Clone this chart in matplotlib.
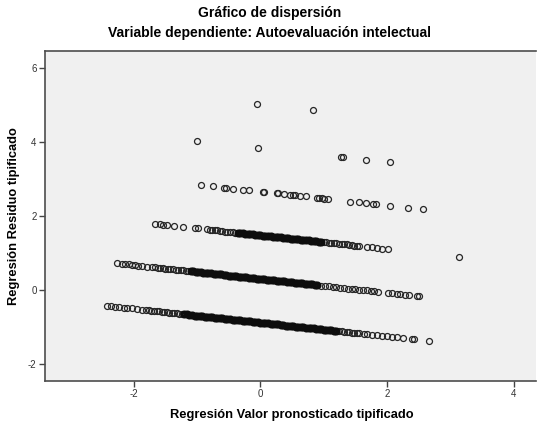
import matplotlib
matplotlib.use('Agg')
import matplotlib.pyplot as plt

plt.rcParams['font.family'] = ['Liberation Sans', 'DejaVu Sans']

# Regression standardized predicted value (x) and standardized residual (y),
# read off the reference picture band by band.
# *_solid lists hold the stretches where the circles pile up into a black bar.

# band at residual ~5
pred_a = [-0.06, 0.83]
resid_a = [5.02, 4.86]

# band at residual ~4 .. 3.4
pred_b = [-1.00, -0.04, 1.27, 1.31, 1.67, 2.04]
resid_b = [4.03, 3.84, 3.59, 3.59, 3.52, 3.45]

# band at residual ~2.8 .. 2.2
pred_c = [-0.93, -0.75, -0.57, -0.54, -0.44, -0.27, -0.18, 0.04, 0.06, 0.26,
          0.27, 0.37, 0.47, 0.51, 0.54, 0.62, 0.72, 0.89, 0.93, 0.97,
          1.01, 1.07, 1.42, 1.56, 1.66, 1.77, 1.82, 2.04, 2.33, 2.56]
resid_c = [2.83, 2.80, 2.77, 2.76, 2.74, 2.71, 2.69, 2.65, 2.65, 2.61,
           2.61, 2.59, 2.57, 2.56, 2.56, 2.54, 2.53, 2.49, 2.49, 2.48,
           2.47, 2.46, 2.39, 2.37, 2.35, 2.33, 2.32, 2.28, 2.22, 2.18]

# band at residual ~1.8 .. 1.1 (plus one outlier)
pred_d = [-1.67, -1.58, -1.53, -1.48, -1.37, -1.22, -1.04, -0.99, -0.85,
          -0.80, -0.76, -0.72, -0.68, -0.64, -0.60, -0.56, -0.52, -0.48, -0.44, -0.40,
          1.00, 1.04, 1.08, 1.12, 1.16, 1.20, 1.24, 1.28, 1.32, 1.36,
          1.40, 1.44, 1.48, 1.52, 1.56, 1.68, 1.76, 1.84, 1.92, 2.02, 3.14]
resid_d = [1.79, 1.78, 1.77, 1.76, 1.74, 1.71, 1.67, 1.67, 1.64,
           1.63, 1.62, 1.61, 1.61, 1.60, 1.59, 1.58, 1.58, 1.57, 1.56, 1.55,
           1.29, 1.29, 1.28, 1.27, 1.26, 1.26, 1.25, 1.24, 1.23, 1.23,
           1.22, 1.21, 1.20, 1.20, 1.19, 1.17, 1.15, 1.14, 1.12, 1.10, 0.89]
pred_d_solid = [-0.36, -0.32, -0.28, -0.24, -0.20, -0.16, -0.12, -0.08, -0.04, 0.00,
                0.04, 0.08, 0.12, 0.16, 0.20, 0.24, 0.28, 0.32, 0.36, 0.40,
                0.44, 0.48, 0.52, 0.56, 0.60, 0.64, 0.68, 0.72, 0.76, 0.80,
                0.84, 0.88, 0.92, 0.96]
resid_d_solid = [1.55, 1.54, 1.53, 1.52, 1.52, 1.51, 1.50, 1.49, 1.49, 1.48,
                 1.47, 1.47, 1.46, 1.45, 1.44, 1.44, 1.43, 1.42, 1.41, 1.41,
                 1.40, 1.39, 1.38, 1.38, 1.37, 1.36, 1.35, 1.35, 1.34, 1.33,
                 1.32, 1.32, 1.31, 1.30]

# band at residual ~0.7 .. -0.2
pred_e = [-2.26, -2.19, -2.14, -2.08, -2.03, -1.98, -1.93, -1.87, -1.79, -1.71, -1.66,
          -1.62, -1.58, -1.54, -1.50, -1.46, -1.42, -1.38, -1.34, -1.30, -1.26,
          -1.22, -1.18, -1.14,
          0.96, 1.02, 1.08, 1.14, 1.20, 1.26, 1.32, 1.38, 1.44, 1.50,
          1.56, 1.62, 1.68, 1.74, 1.80, 1.86,
          2.02, 2.07, 2.15, 2.21, 2.28, 2.35, 2.47, 2.51]
resid_e = [0.72, 0.71, 0.70, 0.69, 0.68, 0.67, 0.66, 0.65, 0.63, 0.62, 0.61,
           0.60, 0.60, 0.59, 0.58, 0.57, 0.57, 0.56, 0.55, 0.54, 0.54,
           0.53, 0.52, 0.51,
           0.12, 0.11, 0.10, 0.09, 0.08, 0.06, 0.05, 0.04, 0.03, 0.02,
           0.01, 0.00, -0.01, -0.03, -0.04, -0.05,
           -0.08, -0.09, -0.10, -0.11, -0.13, -0.14, -0.16, -0.17]
pred_e_solid = [-1.10, -1.06, -1.02, -0.98, -0.94, -0.90, -0.86, -0.82, -0.78, -0.74,
                -0.70, -0.66, -0.62, -0.58, -0.54, -0.50, -0.46, -0.42, -0.38, -0.34,
                -0.30, -0.26, -0.22, -0.18, -0.14, -0.10, -0.06, -0.02, 0.02, 0.06,
                0.10, 0.14, 0.18, 0.22, 0.26, 0.30, 0.34, 0.38, 0.42, 0.46,
                0.50, 0.54, 0.58, 0.62, 0.66, 0.70, 0.74, 0.78, 0.82, 0.86, 0.90]
resid_e_solid = [0.51, 0.50, 0.49, 0.48, 0.48, 0.47, 0.46, 0.45, 0.45, 0.44,
                 0.43, 0.42, 0.42, 0.41, 0.40, 0.39, 0.39, 0.38, 0.37, 0.36,
                 0.36, 0.35, 0.34, 0.33, 0.33, 0.32, 0.31, 0.30, 0.30, 0.29,
                 0.28, 0.27, 0.27, 0.26, 0.25, 0.24, 0.24, 0.23, 0.22, 0.21,
                 0.21, 0.20, 0.19, 0.18, 0.18, 0.17, 0.16, 0.15, 0.15, 0.14, 0.13]

# band at residual ~-0.4 .. -1.4
pred_f = [-2.42, -2.36, -2.29, -2.23, -2.16, -2.10, -2.03, -1.95, -1.87,
          -1.80, -1.76, -1.72, -1.68, -1.64, -1.60, -1.56, -1.52, -1.48, -1.44,
          -1.40, -1.36, -1.32, -1.28, -1.24,
          1.24, 1.28, 1.32, 1.36, 1.40, 1.44, 1.48, 1.52, 1.56,
          1.63, 1.69, 1.76, 1.84, 1.92, 2.00, 2.07, 2.15, 2.25, 2.39, 2.43, 2.66]
resid_f = [-0.43, -0.44, -0.45, -0.46, -0.48, -0.49, -0.50, -0.52, -0.53,
           -0.54, -0.55, -0.56, -0.57, -0.57, -0.58, -0.59, -0.60, -0.60, -0.61,
           -0.62, -0.63, -0.63, -0.64, -0.65,
           -1.11, -1.12, -1.13, -1.13, -1.14, -1.15, -1.16, -1.16, -1.17,
           -1.18, -1.20, -1.21, -1.22, -1.24, -1.25, -1.27, -1.28, -1.30, -1.33, -1.33, -1.38]
pred_f_solid = [-1.20, -1.16, -1.12, -1.08, -1.04, -1.00, -0.96, -0.92, -0.88, -0.84,
                -0.80, -0.76, -0.72, -0.68, -0.64, -0.60, -0.56, -0.52, -0.48, -0.44,
                -0.40, -0.36, -0.32, -0.28, -0.24, -0.20, -0.16, -0.12, -0.08, -0.04,
                0.00, 0.04, 0.08, 0.12, 0.16, 0.20, 0.24, 0.28, 0.32, 0.36,
                0.40, 0.44, 0.48, 0.52, 0.56, 0.60, 0.64, 0.68, 0.72, 0.76,
                0.80, 0.84, 0.88, 0.92, 0.96, 1.00, 1.04, 1.08, 1.12, 1.16, 1.20]
resid_f_solid = [-0.66, -0.66, -0.67, -0.68, -0.69, -0.69, -0.70, -0.71, -0.72, -0.72,
                 -0.73, -0.74, -0.75, -0.75, -0.76, -0.77, -0.78, -0.78, -0.79, -0.80,
                 -0.81, -0.81, -0.82, -0.83, -0.84, -0.84, -0.85, -0.86, -0.87, -0.87,
                 -0.88, -0.89, -0.90, -0.90, -0.91, -0.92, -0.93, -0.93, -0.94, -0.95,
                 -0.96, -0.96, -0.97, -0.98, -0.99, -0.99, -1.00, -1.01, -1.02, -1.02,
                 -1.03, -1.04, -1.05, -1.05, -1.06, -1.07, -1.07, -1.08, -1.09, -1.10, -1.10]

x_ticks = [-2, 0, 2, 4]
y_ticks = [-2, 0, 2, 4, 6]

fig = plt.figure(figsize=(5.37, 4.28), dpi=100)
ax = fig.add_axes([45 / 537, 47 / 428, 491 / 537, 330 / 428])
ax.set_facecolor('#f0f0f0')

# open rings
for px, ry in [(pred_a, resid_a), (pred_b, resid_b), (pred_c, resid_c),
               (pred_d, resid_d), (pred_e, resid_e), (pred_f, resid_f)]:
    ax.plot(px, ry, 'o', ls='none', markersize=4.3, markerfacecolor='none',
            markeredgecolor='#262626', markeredgewidth=0.9)

# stretches where hundreds of rings overlap into a solid bar
for px, ry in [(pred_d_solid, resid_d_solid), (pred_e_solid, resid_e_solid),
               (pred_f_solid, resid_f_solid)]:
    ax.plot(px, ry, 'o', ls='none', markersize=3.5, markerfacecolor='none',
            markeredgecolor='#0d0d0d', markeredgewidth=2.3)

ax.set_xlim(-3.40, 4.35)
ax.set_ylim(-2.46, 6.46)
ax.set_xticks(x_ticks)
ax.set_yticks(y_ticks)
ax.set_xticklabels([str(t) for t in x_ticks])
ax.set_yticklabels([str(t) for t in y_ticks])
ax.tick_params(direction='out', length=4, width=1, colors='#444444',
               labelsize=7, labelcolor='#333333', pad=2)

for side in ['left', 'bottom', 'top']:
    ax.spines[side].set_color('#4d4d4d')
    ax.spines[side].set_linewidth(1.2)
ax.spines['right'].set_visible(False)

fig.text(270 / 537, 1 - 17 / 428, 'Gráfico de dispersión', ha='center',
         va='baseline', fontsize=10, fontweight='bold')
fig.text(270 / 537, 1 - 37.5 / 428, 'Variable dependiente: Autoevaluación intelectual',
         ha='center', va='baseline', fontsize=10, fontweight='bold')
fig.text(292 / 537, 1 - 418 / 428, 'Regresión Valor pronosticado tipificado',
         ha='center', va='baseline', fontsize=9.3, fontweight='bold')
fig.text(14 / 537, 1 - 216 / 428, 'Regresión Residuo tipificado', rotation=90,
         ha='center', va='center', fontsize=9.3, fontweight='bold')

fig.savefig('out.png', dpi=100)
